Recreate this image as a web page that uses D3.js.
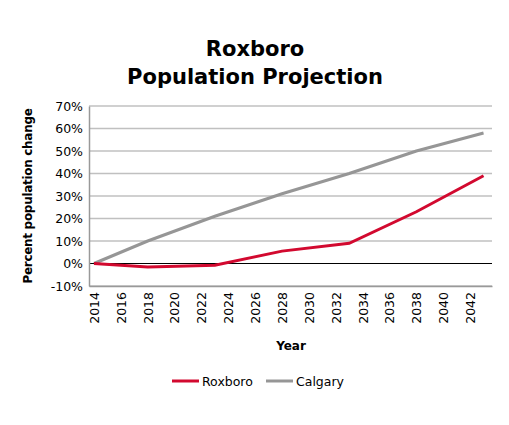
<!DOCTYPE html>
<html><head><meta charset="utf-8">
<script src="https://cdn.jsdelivr.net/npm/d3@7"></script>
<style>body{margin:0;background:#fff}text{font-family:"DejaVu Sans",sans-serif}</style>
</head><body><svg id="c" width="509" height="425"></svg>
<script>
// chart data
var years = [2014, 2018, 2023, 2028, 2033, 2038, 2043];
var roxboro = [0, -1.5, -0.8, 5.5, 9, 23, 39];
var calgary = [0, 10, 21, 31, 40, 50, 58];
var yTicks = [-10, 0, 10, 20, 30, 40, 50, 60, 70];
var xTicks = [2014, 2016, 2018, 2020, 2022, 2024, 2026, 2028, 2030, 2032, 2034, 2036, 2038, 2040, 2042];

var svg = d3.select('#c');
var x = d3.scaleLinear().domain([2013.63, 2043.63]).range([89, 492]);
var y = d3.scaleLinear().domain([-10, 70]).range([286, 106]);

//title
svg.append('text').attr('x', 255).attr('y', 56).attr('text-anchor', 'middle')
    .attr('font-size', 21).attr('font-weight', 'bold').text('Roxboro');
svg.append('text').attr('x', 255).attr('y', 84).attr('text-anchor', 'middle')
    .attr('font-size', 21).attr('font-weight', 'bold').text('Population Projection');

//grid lines
svg.append('g').selectAll('line').data(yTicks).enter().append('line')
    .attr('x1', 89).attr('x2', 492)
    .attr('y1', function (d) { return y(d); }).attr('y2', function (d) { return y(d); })
    .attr('stroke', function (d) { return d === 0 ? '#000' : '#c0c0c0'; })
    .attr('stroke-width', function (d) { return d === 0 ? 1.2 : 1.5; });

//y axis
var yAxis = svg.append('g').attr('transform', 'translate(89,0)')
    .call(d3.axisLeft(y).tickValues(yTicks).tickSize(0).tickPadding(6).tickFormat(function (d) { return d + '%'; }));
yAxis.select('.domain').attr('stroke', '#999').attr('stroke-width', 1.5);
yAxis.selectAll('text').attr('font-size', 12.5).attr('fill', '#000');

//x axis
var xAxis = svg.append('g').attr('transform', 'translate(0,286)')
    .call(d3.axisBottom(x).tickValues(xTicks).tickSize(0).tickFormat(d3.format('d')));
xAxis.select('.domain').attr('stroke', '#999').attr('stroke-width', 1.5);
xAxis.selectAll('text').attr('font-size', 12.5).attr('fill', '#000')
    .attr('transform', 'rotate(-90)').attr('text-anchor', 'end')
    .attr('dx', '-6').attr('dy', '0.35em').attr('x', 0).attr('y', 0);

//axis titles
svg.append('text').attr('x', 291).attr('y', 350).attr('text-anchor', 'middle')
    .attr('font-size', 12).attr('font-weight', 'bold').text('Year');
svg.append('text').attr('transform', 'translate(32,196) rotate(-90)').attr('text-anchor', 'middle')
    .attr('font-size', 12).attr('font-weight', 'bold').attr('letter-spacing', -0.3).text('Percent population change');

//lines
var line = d3.line().x(function (d, i) { return x(years[i]); }).y(function (d) { return y(d); });
svg.append('path').attr('d', line(calgary)).attr('fill', 'none').attr('stroke', '#969696').attr('stroke-width', 3);
svg.append('path').attr('d', line(roxboro)).attr('fill', 'none').attr('stroke', '#d2092f').attr('stroke-width', 3);

//legend
var legend = [{ name: 'Roxboro', color: '#d2092f', x: 172 }, { name: 'Calgary', color: '#969696', x: 266 }];
legend.forEach(function (l) {
    svg.append('line').attr('x1', l.x).attr('x2', l.x + 27).attr('y1', 381).attr('y2', 381)
        .attr('stroke', l.color).attr('stroke-width', 3);
    svg.append('text').attr('x', l.x + 30).attr('y', 386).attr('font-size', 12.5).text(l.name);
});
</script></body></html>
